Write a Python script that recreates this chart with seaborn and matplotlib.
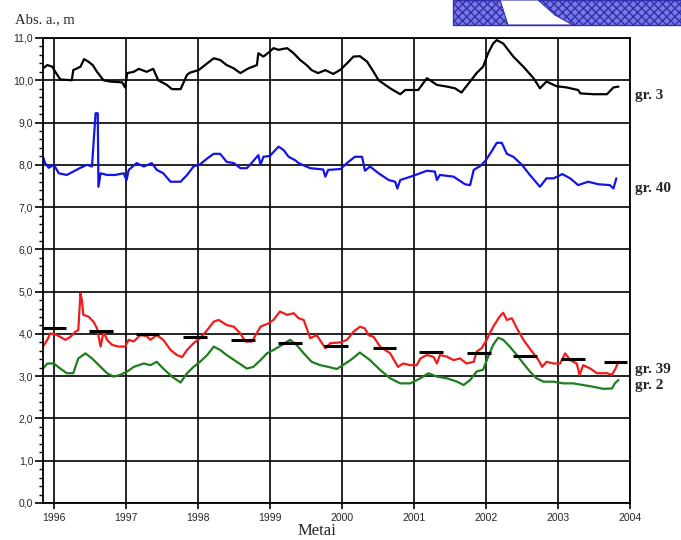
import numpy as np
import pandas as pd
import seaborn as sns
import matplotlib.pyplot as plt
from matplotlib.ticker import MultipleLocator
from matplotlib.patches import Rectangle, Polygon

# gr. 3 (black)
gr3_t = [1995.85, 1995.91, 1995.98, 1996.02, 1996.09, 1996.25, 1996.27, 1996.37, 1996.42, 1996.48,
         1996.54, 1996.60, 1996.69, 1996.78, 1996.95, 1996.99, 1997.02, 1997.11, 1997.18, 1997.29,
         1997.38, 1997.45, 1997.57, 1997.64, 1997.76, 1997.85, 1997.89, 1998.01, 1998.13, 1998.22,
         1998.31, 1998.40, 1998.50, 1998.59, 1998.70, 1998.82, 1998.84, 1998.91, 1999.00, 1999.05,
         1999.12, 1999.24, 1999.33, 1999.42, 1999.51, 1999.58, 1999.67, 1999.77, 1999.88, 1999.98,
         2000.07, 2000.16, 2000.25, 2000.35, 2000.44, 2000.51, 2000.67, 2000.81, 2000.88, 2001.06,
         2001.18, 2001.32, 2001.46, 2001.57, 2001.66, 2001.78, 2001.87, 2001.96, 2002.03, 2002.10,
         2002.15, 2002.24, 2002.38, 2002.52, 2002.66, 2002.75, 2002.84, 2002.98, 2003.12, 2003.28,
         2003.31, 2003.49, 2003.68, 2003.77, 2003.84]
gr3_v = [10.28, 10.36, 10.32, 10.20, 10.02, 10.00, 10.24, 10.32, 10.50, 10.44,
         10.36, 10.20, 10.00, 9.97, 9.95, 9.83, 10.17, 10.20, 10.27, 10.20,
         10.27, 10.00, 9.89, 9.79, 9.79, 10.13, 10.18, 10.24, 10.40, 10.52,
         10.48, 10.36, 10.28, 10.17, 10.28, 10.36, 10.64, 10.56, 10.68, 10.76,
         10.72, 10.76, 10.64, 10.48, 10.36, 10.24, 10.17, 10.24, 10.15, 10.25,
         10.40, 10.56, 10.57, 10.44, 10.20, 10.00, 9.81, 9.67, 9.77, 9.77,
         10.05, 9.89, 9.85, 9.81, 9.71, 9.97, 10.17, 10.32, 10.64, 10.87,
         10.95, 10.87, 10.56, 10.32, 10.05, 9.81, 9.97, 9.86, 9.83, 9.77,
         9.69, 9.67, 9.67, 9.83, 9.85]

# gr. 40 (blue)
gr40_t = [1995.85, 1995.88, 1995.93, 1996.00, 1996.07, 1996.18, 1996.27, 1996.37, 1996.46, 1996.53,
          1996.58, 1996.61, 1996.62, 1996.65, 1996.74, 1996.85, 1996.97, 1997.01, 1997.04, 1997.15,
          1997.25, 1997.36, 1997.43, 1997.52, 1997.62, 1997.76, 1997.85, 1997.94, 1998.03, 1998.13,
          1998.22, 1998.31, 1998.40, 1998.50, 1998.59, 1998.68, 1998.75, 1998.84, 1998.87, 1998.91,
          1999.00, 1999.12, 1999.19, 1999.26, 1999.35, 1999.40, 1999.56, 1999.74, 1999.77, 1999.81,
          1999.98, 2000.07, 2000.18, 2000.28, 2000.32, 2000.39, 2000.51, 2000.65, 2000.74, 2000.77,
          2000.81, 2000.99, 2001.18, 2001.29, 2001.32, 2001.36, 2001.55, 2001.71, 2001.78, 2001.83,
          2001.92, 2002.00, 2002.09, 2002.15, 2002.22, 2002.29, 2002.38, 2002.50, 2002.61, 2002.75,
          2002.84, 2002.94, 2003.06, 2003.17, 2003.28, 2003.42, 2003.56, 2003.72, 2003.77, 2003.81]
gr40_v = [8.19, 8.04, 7.93, 8.00, 7.80, 7.76, 7.84, 7.93, 8.00, 7.96,
          9.22, 9.22, 7.48, 7.80, 7.76, 7.76, 7.80, 7.64, 7.88, 8.04,
          7.96, 8.04, 7.88, 7.80, 7.60, 7.60, 7.76, 7.96, 8.01, 8.15,
          8.26, 8.26, 8.07, 8.04, 7.92, 7.92, 8.05, 8.23, 8.00, 8.19,
          8.21, 8.43, 8.35, 8.19, 8.11, 8.04, 7.92, 7.89, 7.72, 7.88,
          7.90, 8.04, 8.19, 8.19, 7.86, 7.96, 7.80, 7.64, 7.60, 7.44,
          7.64, 7.74, 7.86, 7.84, 7.64, 7.76, 7.72, 7.54, 7.52, 7.88,
          7.97, 8.11, 8.35, 8.52, 8.52, 8.26, 8.19, 8.00, 7.76, 7.48,
          7.68, 7.68, 7.78, 7.68, 7.52, 7.60, 7.54, 7.52, 7.44, 7.68]

# gr. 39 (red)
gr39_t = [1995.85, 1995.91, 1995.95, 1996.02, 1996.09, 1996.16, 1996.23, 1996.30, 1996.34, 1996.37,
          1996.39, 1996.41, 1996.48, 1996.55, 1996.60, 1996.65, 1996.69, 1996.74, 1996.81, 1996.90,
          1996.99, 1997.04, 1997.11, 1997.20, 1997.29, 1997.34, 1997.43, 1997.52, 1997.62, 1997.71,
          1997.78, 1997.85, 1997.94, 1998.03, 1998.13, 1998.22, 1998.29, 1998.40, 1998.50, 1998.59,
          1998.66, 1998.75, 1998.87, 1998.98, 1999.05, 1999.14, 1999.24, 1999.33, 1999.40, 1999.47,
          1999.56, 1999.65, 1999.77, 1999.84, 1999.98, 2000.07, 2000.16, 2000.25, 2000.32, 2000.37,
          2000.44, 2000.53, 2000.67, 2000.78, 2000.85, 2000.95, 2001.04, 2001.09, 2001.18, 2001.27,
          2001.32, 2001.36, 2001.46, 2001.55, 2001.64, 2001.73, 2001.83, 2001.87, 2001.94, 2002.01,
          2002.10, 2002.19, 2002.24, 2002.29, 2002.36, 2002.43, 2002.52, 2002.64, 2002.73, 2002.78,
          2002.84, 2002.94, 2003.03, 2003.10, 2003.17, 2003.26, 2003.30, 2003.35, 2003.45, 2003.54,
          2003.68, 2003.75, 2003.79, 2003.84]
gr39_v = [3.70, 3.86, 4.01, 3.99, 3.93, 3.86, 3.93, 4.05, 4.09, 4.96,
          4.80, 4.45, 4.41, 4.29, 4.13, 3.70, 4.05, 3.86, 3.74, 3.70,
          3.70, 3.86, 3.82, 3.97, 3.95, 3.86, 3.97, 3.86, 3.62, 3.50,
          3.45, 3.62, 3.78, 3.90, 4.09, 4.29, 4.33, 4.21, 4.17, 4.01,
          3.82, 3.82, 4.17, 4.25, 4.33, 4.53, 4.45, 4.49, 4.37, 4.33,
          3.90, 3.97, 3.66, 3.78, 3.80, 3.86, 4.05, 4.17, 4.13, 3.97,
          3.93, 3.70, 3.54, 3.22, 3.30, 3.26, 3.26, 3.42, 3.50, 3.46,
          3.30, 3.50, 3.46, 3.38, 3.42, 3.30, 3.34, 3.58, 3.66, 3.86,
          4.17, 4.41, 4.50, 4.33, 4.37, 4.13, 3.86, 3.58, 3.38, 3.22,
          3.34, 3.30, 3.30, 3.54, 3.38, 3.30, 3.03, 3.26, 3.18, 3.07,
          3.07, 3.03, 3.15, 3.34]

# gr. 2 (green)
gr2_t = [1995.85, 1995.91, 1996.00, 1996.09, 1996.18, 1996.27, 1996.34, 1996.44, 1996.53, 1996.65,
         1996.74, 1996.83, 1996.92, 1997.02, 1997.11, 1997.25, 1997.34, 1997.43, 1997.52, 1997.64,
         1997.76, 1997.85, 1997.94, 1998.03, 1998.13, 1998.22, 1998.31, 1998.40, 1998.54, 1998.68,
         1998.77, 1998.87, 1998.96, 1999.05, 1999.17, 1999.28, 1999.37, 1999.47, 1999.58, 1999.70,
         1999.81, 1999.93, 2000.12, 2000.25, 2000.39, 2000.53, 2000.67, 2000.81, 2000.95, 2001.09,
         2001.20, 2001.32, 2001.46, 2001.60, 2001.69, 2001.78, 2001.87, 2001.96, 2002.03, 2002.10,
         2002.17, 2002.24, 2002.33, 2002.43, 2002.52, 2002.61, 2002.70, 2002.80, 2002.94, 2003.07,
         2003.21, 2003.35, 2003.49, 2003.63, 2003.75, 2003.79, 2003.84]
gr2_v = [3.18, 3.30, 3.30, 3.18, 3.07, 3.07, 3.42, 3.54, 3.42, 3.22,
         3.07, 2.99, 3.03, 3.11, 3.22, 3.30, 3.26, 3.34, 3.18, 2.99,
         2.85, 3.07, 3.22, 3.34, 3.50, 3.70, 3.62, 3.50, 3.34, 3.18,
         3.22, 3.38, 3.54, 3.62, 3.74, 3.86, 3.74, 3.54, 3.34, 3.26,
         3.22, 3.17, 3.38, 3.56, 3.38, 3.15, 2.95, 2.83, 2.83, 2.95,
         3.07, 2.99, 2.95, 2.87, 2.79, 2.91, 3.11, 3.15, 3.46, 3.74,
         3.91, 3.86, 3.70, 3.50, 3.30, 3.11, 2.95, 2.87, 2.87, 2.83,
         2.83, 2.79, 2.75, 2.70, 2.71, 2.83, 2.91]

# trend dashes
trend_t = [1996.00, 1996.65, 1997.30, 1997.96, 1998.63, 1999.28, 1999.92, 2000.59, 2001.24,
           2001.90, 2002.54, 2003.21, 2003.80]
trend_v = [4.14, 4.07, 3.99, 3.93, 3.85, 3.79, 3.72, 3.66, 3.58, 3.54, 3.48, 3.41, 3.33]

years = list(range(1996, 2005))
y_major = list(range(0, 12))
y_labels = ["0,0", "1,0", "2,0", "3,0", "4,0", "5,0", "6,0", "7,0", "8,0", "9,0", "10,0", "11,0"]

series = [("gr. 3", gr3_t, gr3_v, "black", 9.65),
          ("gr. 40", gr40_t, gr40_v, "#1414e6", 7.45),
          ("gr. 39", gr39_t, gr39_v, "#ee1c1c", 3.15),
          ("gr. 2", gr2_t, gr2_v, "#1f7d1f", 2.78)]

sns.set_theme(style="ticks")
plt.rcParams['font.family'] = ['Liberation Serif', 'DejaVu Serif']

fig = plt.figure(figsize=(6.81, 5.40), dpi=100)
ax = fig.add_axes([43 / 681, 37 / 540, 587 / 681, 465 / 540])

for name, t, v, col, ylab in series:
    df = pd.DataFrame({"t": t, "v": v})
    sns.lineplot(data=df, x="t", y="v", color=col, linewidth=1.6, estimator=None, sort=False, ax=ax)
    ax.text(1.008, ylab, name, transform=ax.get_yaxis_transform(), fontsize=11,
            fontweight="bold", va="center", ha="left", clip_on=False)

tt = np.array(trend_t)
ax.hlines(trend_v, tt - 0.165, tt + 0.165, color="black", linewidth=2.2, zorder=4)

ax.set_xlim(1995.85, 2004.0)
ax.set_ylim(0, 11)
ax.set_xticks(years)
ax.set_xticklabels([str(y) for y in years], fontsize=7.5, family="Liberation Sans")
ax.set_yticks(y_major)
ax.set_yticklabels(y_labels, fontsize=7.5, family="Liberation Sans")
ax.yaxis.set_minor_locator(MultipleLocator(0.2))
ax.tick_params(axis="y", which="major", length=6, width=1.2, pad=1, color="black")
ax.tick_params(axis="y", which="minor", length=3, width=1, color="black")
ax.tick_params(axis="x", which="major", length=4, width=1.2, pad=3, color="black")
ax.grid(True, which="major", color="black", linewidth=1.2)
for s in ax.spines.values():
    s.set_color("black")
    s.set_linewidth(1.3)
ax.set_xlabel("")
ax.set_ylabel("")

fig.text(15 / 681, 1 - 20 / 540, "Abs. a., m", fontsize=10.5, va="center", ha="left")
fig.text(317 / 681, 1 - 531 / 540, "Metai", fontsize=12, va="center", ha="center")

# decorative hatched logo piece in the top-right corner
fig.patches.append(Rectangle((453 / 681, 1 - 25 / 540), 228 / 681, 25 / 540,
                             transform=fig.transFigure, facecolor="#7a7ae6", edgecolor="#3030b0",
                             hatch="xxxx", linewidth=1))
fig.patches.append(Polygon([(500 / 681, 1.0), (538 / 681, 1.0), (555 / 681, 1 - 15 / 540),
                            (573 / 681, 1 - 25 / 540), (508 / 681, 1 - 25 / 540)],
                           closed=True, transform=fig.transFigure, facecolor="white",
                           edgecolor="#3030b0", linewidth=0.8))

fig.savefig("out.png", dpi=100)
